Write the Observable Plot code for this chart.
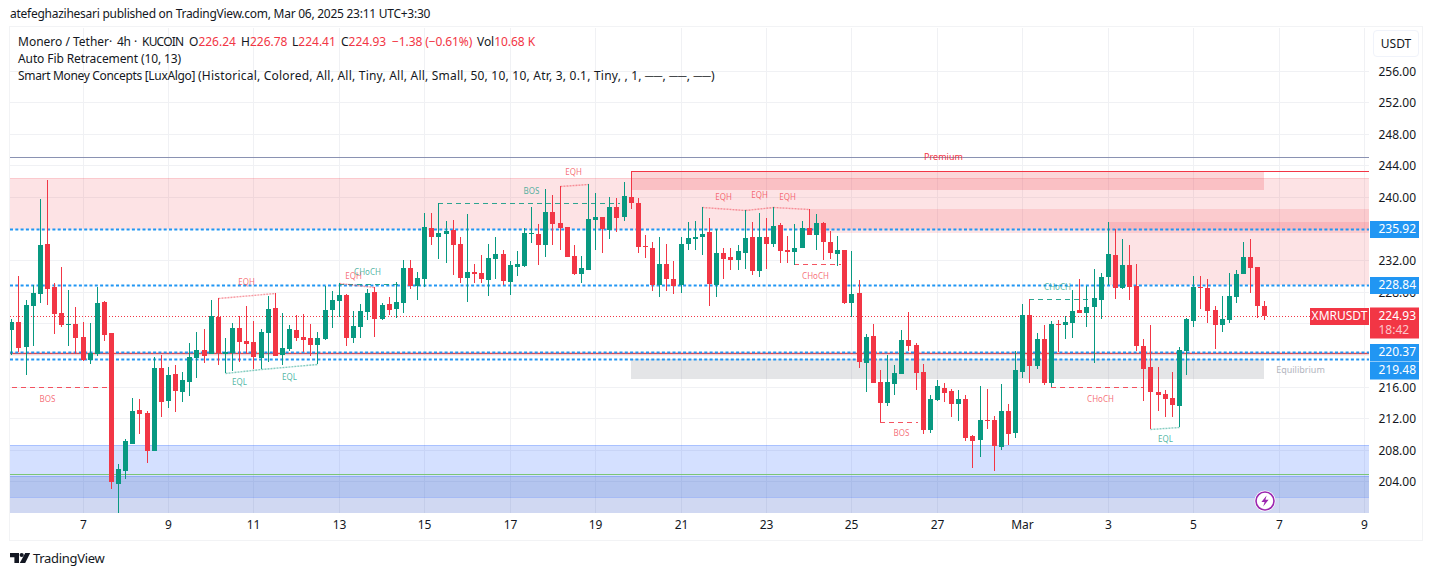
<!DOCTYPE html>
<html>
<head>
<meta charset="utf-8">
<script src="https://cdn.jsdelivr.net/npm/d3@7"></script>
<script src="https://cdn.jsdelivr.net/npm/@observablehq/plot@0.6"></script>
<style>
html,body{margin:0;padding:0;background:#fff}
#page{position:relative;width:1433px;height:576px;overflow:hidden;font-family:"Noto Sans",sans-serif;color:#131722}
#page svg.plot{position:absolute;left:0;top:0;background:transparent}
.abs{position:absolute;white-space:nowrap;line-height:16px}
#border{position:absolute;left:9px;top:26px;width:1412px;height:513px;border:1.5px solid #f2f3f5;box-sizing:content-box}
.r{color:#f23645}
</style>
</head>
<body>
<div id="page">
  <div id="border"></div>
  <div id="chart"></div>
  <div class="abs" style="left:10px;top:6px;font-size:12px;letter-spacing:-.26px">atefeghazihesari published on TradingView.com, Mar 06, 2025 23:11 UTC+3:30</div>
  <div class="abs" style="left:18px;top:34px;font-size:12px">Monero / Tether</div>
  <div class="abs" style="left:109px;top:34px;font-size:12px">·</div>
  <div class="abs" style="left:117px;top:34px;font-size:12px;letter-spacing:-.3px">4h</div>
  <div class="abs" style="left:134px;top:34px;font-size:12px">·</div>
  <div class="abs" style="left:142px;top:34px;font-size:12px;letter-spacing:-.8px">KUCOIN</div>
  <div class="abs" style="left:189px;top:34px;font-size:12px">O<span class="r">226.24</span></div>
  <div class="abs" style="left:241px;top:34px;font-size:12px">H<span class="r">226.78</span></div>
  <div class="abs" style="left:292px;top:34px;font-size:12px">L<span class="r">224.41</span></div>
  <div class="abs" style="left:341px;top:34px;font-size:12px">C<span class="r">224.93</span></div>
  <div class="abs r" style="left:392px;top:34px;font-size:12px;letter-spacing:-.1px">−1.38 (−0.61%)</div>
  <div class="abs" style="left:477px;top:34px;font-size:12px;letter-spacing:-.05px">Vol<span class="r">10.68 K</span></div>
  <div class="abs" style="left:18px;top:51px;font-size:12px;letter-spacing:-.1px">Auto Fib Retracement (10, 13)</div>
  <div class="abs" style="left:18px;top:68px;font-size:12px;letter-spacing:-.33px">Smart Money Concepts [LuxAlgo]</div>
  <div class="abs" style="left:198px;top:68px;font-size:12px;letter-spacing:.22px">(Historical, Colored, All, All, Tiny, All, All, Small, 50, 10, 10, Atr, 3, 0.1, Tiny, , 1, ──, ──, ──)</div>
  <div class="abs" style="left:1373px;top:30px;width:44px;height:25px;line-height:25px;border:1px solid #f0f3fa;border-radius:4px;text-align:center;font-size:12px">USDT</div>
  <svg class="abs" style="left:1254px;top:490px" width="22" height="22" viewBox="0 0 22 22">
    <circle cx="11" cy="11" r="10.5" fill="#fff"/>
    <circle cx="11" cy="11" r="9" fill="#fff" stroke="#9c27b0" stroke-width="1.6"/>
    <path d="M12.6 5.5 L7.4 12 H10.6 L9.2 16.5 L14.6 9.8 H11.4 Z" fill="#9c27b0"/>
  </svg>
  <svg class="abs" style="left:10px;top:552px" width="21" height="12" viewBox="0 0 21 12">
    <path d="M0 1H9V11H4.4V5.2H0Z" fill="#131722"/>
    <circle cx="11.7" cy="3" r="2.1" fill="#131722"/>
    <path d="M15.2 1H20.2L15.2 11H9.8Z" fill="#131722"/>
  </svg>
  <div class="abs" style="left:33px;top:550px;font-size:13px;letter-spacing:-.3px">TradingView</div>
</div>
<script>
const opens = [223.17,224.18,221.02,226.20,227.72,234.05,228.61,225.32,223.80,223.93,222.28,219.37,220.13,226.71,222.79,203.69,205.33,208.75,213.05,212.67,207.86,218.36,214.19,217.60,215.33,216.59,219.63,220.64,220.13,224.81,220.13,220.26,223.42,221.78,221.65,219.63,222.79,225.95,220.01,220.76,223.17,222.28,222.16,221.27,222.03,225.70,226.84,227.60,222.16,223.55,225.45,227.98,224.56,226.46,225.82,226.58,231.01,228.73,229.62,236.07,234.93,235.31,
235.82,234.05,229.75,230.51,230.38,229.49,232.15,232.78,229.24,231.14,231.26,235.31,235.31,233.92,238.10,236.70,236.20,232.53,230.25,230.76,237.08,237.46,235.82,238.73,237.46,240.00,239.23,233.80,233.54,228.86,
231.52,229.62,228.86,234.05,234.68,234.93,235.57,228.86,232.91,232.40,232.02,232.91,234.93,230.63,234.93,234.05,236.45,233.29,233.04,233.54,236.07,235.19,236.70,234.30,232.78,233.29,226.58,227.85,
219.00,222.41,216.59,213.93,216.34,217.60,221.90,221.27,217.86,210.52,214.31,215.83,215.45,213.81,214.44,209.76,209.25,211.78,211.78,208.37,212.92,210.14,217.86,225.07,218.62,222.03,
216.46,223.93,223.80,224.05,225.70,225.32,226.08,226.96,229.87,232.66,228.48,231.39,228.73,221.14,218.49,215.33,215.07,214.57,213.55,220.51,224.31,228.61,228.48,225.70,223.80,224.43,227.34,230.25,232.40,231.14,226.24];
const highs = [224.52,230.00,226.96,228.86,239.74,242.14,229.07,231.14,228.23,226.08,224.18,224.05,228.61,226.84,222.79,206.22,209.38,214.57,214.44,212.92,219.75,220.01,218.49,218.74,217.85,221.52,222.92,223.30,226.96,227.22,222.16,224.05,224.94,226.20,224.31,223.30,227.47,227.85,225.32,223.80,225.07,225.19,223.93,222.92,228.73,228.10,229.11,227.72,225.57,226.46,228.36,228.61,226.58,227.34,229.20,232.02,232.02,230.51,237.97,237.97,239.19,236.96,
237.08,234.93,237.84,231.52,232.66,234.05,234.93,233.29,231.90,233.16,236.07,238.73,236.58,241.01,240.25,241.39,236.20,233.92,232.53,241.64,240.50,237.46,240.00,239.87,241.89,240.00,239.87,235.19,234.30,234.93,
234.05,231.90,234.93,236.83,236.96,238.73,237.34,235.95,233.54,233.54,233.92,238.35,236.83,237.97,237.34,238.73,236.70,235.06,236.58,236.96,238.48,237.84,236.83,235.69,235.06,233.29,233.16,229.49,
222.66,223.93,218.11,220.01,218.74,223.17,225.45,221.53,218.87,214.95,216.84,216.46,215.70,215.58,214.95,209.89,216.09,215.70,212.29,216.34,213.81,220.51,226.46,227.09,222.79,223.80,
224.31,224.43,224.94,228.23,229.62,228.73,230.89,230.38,236.83,235.95,234.68,233.92,231.52,222.03,223.80,218.49,215.58,217.85,221.02,224.69,230.00,230.00,229.62,226.20,227.47,230.38,230.76,234.30,234.68,231.14,226.78];
const lows = [220.01,220.43,217.48,221.14,226.58,226.33,222.66,223.55,221.14,220.13,219.25,218.87,219.88,221.78,203.05,200.00,204.32,208.75,210.01,206.34,207.86,212.16,213.30,212.79,214.06,214.82,217.10,219.00,220.13,218.74,217.73,217.98,219.12,220.13,218.23,218.23,219.12,219.88,218.74,220.51,221.78,220.38,219.88,218.87,221.90,223.42,224.81,221.14,221.52,222.16,224.43,222.28,224.43,225.07,224.69,225.32,228.36,226.96,228.61,233.92,232.15,231.65,
230.13,229.11,226.71,229.11,229.11,227.47,229.62,228.86,227.60,230.00,231.14,234.18,231.39,232.40,233.92,233.29,232.40,230.13,229.11,230.76,233.29,232.91,234.68,235.57,236.96,238.48,232.91,232.28,228.10,227.34,
228.10,227.72,227.85,233.29,233.29,232.66,226.20,227.34,229.62,230.76,230.76,230.89,230.13,229.87,230.89,233.67,231.65,231.65,231.39,233.54,235.19,233.29,232.02,232.15,231.26,226.46,224.81,218.36,
215.33,216.46,213.93,213.55,214.95,217.60,220.51,215.58,210.01,210.14,214.19,214.06,212.16,211.66,209.13,205.71,207.10,210.64,205.33,207.99,208.62,209.51,217.10,216.46,218.24,216.21,
215.96,220.39,222.03,222.16,225.32,223.55,218.99,224.56,228.86,227.09,228.36,226.96,220.51,214.19,210.64,212.92,212.16,212.16,210.90,217.47,223.55,225.83,224.05,220.76,222.92,224.05,226.58,230.25,227.85,224.69,224.41];
const closes = [224.18,220.89,226.33,227.85,233.92,228.36,225.19,223.80,223.93,222.16,219.37,220.26,226.58,222.54,203.94,205.58,209.13,212.92,212.54,207.86,218.36,214.06,217.48,215.45,216.84,219.75,220.64,219.88,224.94,220.26,220.38,223.42,221.65,221.40,219.75,222.92,225.82,219.88,220.89,223.30,222.16,221.90,221.27,222.16,225.70,226.96,227.60,222.16,223.67,225.57,227.85,224.56,226.33,225.70,226.71,231.01,228.73,229.75,236.20,234.93,235.44,235.69,
233.92,229.75,230.51,230.25,229.62,232.28,232.78,229.37,231.39,231.52,235.44,235.44,233.92,238.10,236.58,236.07,232.40,230.25,231.01,237.21,237.46,235.95,238.73,237.34,240.12,239.23,233.67,233.67,228.86,231.52,
229.62,228.74,234.05,234.81,234.93,235.31,228.99,232.91,232.15,232.02,233.16,234.81,230.63,234.93,234.05,236.33,233.16,233.04,233.54,236.07,235.19,236.70,234.30,232.91,233.29,226.58,227.72,219.12,
222.28,216.46,213.93,216.59,217.73,221.90,221.15,217.73,210.52,214.44,216.09,215.20,213.81,214.44,209.51,209.13,211.78,211.66,208.50,212.92,210.01,218.11,225.07,218.62,222.03,216.46,
223.93,223.80,224.18,225.57,225.32,226.08,227.22,229.87,232.78,228.48,231.39,228.61,221.14,218.23,215.33,214.95,214.44,213.68,220.64,224.56,228.61,228.48,225.57,223.80,224.56,227.47,230.25,232.40,231.00,226.20,224.93];

// Axis values
const gridPrices = [204,208,212,216,220,224,228,232,236,240,244,248,252,256];
const priceTicks = [204,208,212,216,228,232,240,244,248,252,256];
const dayTicks = ["2025-02-07","2025-02-09","2025-02-11","2025-02-13","2025-02-15","2025-02-17","2025-02-19","2025-02-21","2025-02-23","2025-02-25","2025-02-27","2025-03-01","2025-03-03","2025-03-05","2025-03-07","2025-03-09"];
const dayLabels = ["7","9","11","13","15","17","19","21","23","25","27","Mar","3","5","7","9"];

// Levels and zones: [first candle, last candle, top price, bottom price]
const redZones = [[0.8,191.7,242.40,235.92],[88,177,243.32,240.88],[113.2,191.7,238.44,235.40],[155,191.7,236.83,228.88]];
const greyZones = [[88,177,219.50,216.97]];
const blueLevels = [235.92,228.84,220.37,219.48];
const redLevel = [220.22];
const lastPrice = [224.93];
const topLine = [245.03];
const premiumLine = [243.32];
const greenLine = [204.90];

const blueBands = [[208.58,204.70,"rgba(41,98,255,.2)"],[204.70,202.04,"rgba(41,90,210,.35)"],[202.04,200.01,"rgba(50,85,200,.23)"]];
const blueEdges = [208.58,204.70,202.04];

// Structure annotations
const dashes = [[1.1,14.4,215.92,"r"],[47,55.6,229.03,"g"],[61,86.5,239.20,"g"],[111,117.6,231.48,"r"],[123,128.4,211.49,"r"],[144,152.5,227.05,"g"],[147,160,215.92,"r"]];
const brackets = [[88,243.32,240.00,"r"],[123,213.93,211.49,"r"]];
const dotted = [[30,227.22,38,227.85,"r"],[31,217.73,36,218.23,"g"],[36,218.23,44,218.87,"g"],[47,229.11,52,228.61,"r"],[78,241.39,82,241.64,"r"],[98,238.73,104,238.35,"r"],[104,238.35,108,238.73,"r"],[108,238.73,113,238.48,"r"],[161,210.64,165,210.90,"g"]];
const labels = [["BOS",5.97,214.48,"r"],["EQH",33.96,229.28,"r"],["EQL",32.94,216.63,"g"],["EQL",39.96,217.26,"g"],["EQH",49.03,230.04,"r"],["CHoCH",51,230.54,"g"],["BOS",73.95,240.79,"g"],["EQH",79.93,243.2,"r"],["EQH",101,239.96,"r"],["EQH",106.05,240.29,"r"],["EQH",110,240.03,"r"],["CHoCH",113.9,230.04,"r"],["BOS",125.9,210.1,"r"],["CHoCH",147.9,228.65,"g"],["CHoCH",153.95,214.4,"r"],["EQL",163,209.42,"g"]];
const zoneTexts = [["Premium",131.9,245.1,"#f23645"],["Equilibrium",182.05,218.12,"#b2b5be"]];

const GREEN = "#089981", RED = "#f23645", BLUE = "#2196f3";
const t0 = Date.UTC(2025,1,7);
const when = k => new Date(t0 + (k-11)*4*3600*1000);
const kind = c => c === "r" ? RED : GREEN;
const candles = opens.map((o,i)=>({t:when(i+1),o,h:highs[i],l:lows[i],c:closes[i],col:closes[i]>=o?GREEN:RED}));
const kL = 0.817, kR = 191.69;
const font = '"Noto Sans",sans-serif';

const plot = Plot.plot({
  width:1433, height:576,
  marginLeft:10, marginRight:64, marginTop:28, marginBottom:63,
  style:{background:"transparent",fontFamily:font,fontSize:"12px",color:"#131722"},
  x:{type:"utc",domain:[when(kL),when(kR)],round:true,label:null},
  y:{domain:[200.01,261.38],round:true,label:null},
  marks:[
    Plot.gridY(gridPrices,{stroke:"#f0f1f4",strokeOpacity:1}),
    Plot.gridX(dayTicks.map(d=>new Date(d)),{stroke:"#f0f1f4",strokeOpacity:1}),
    // zones
    Plot.rect(redZones,{x1:d=>when(d[0]),x2:d=>when(d[1]),y1:d=>d[2],y2:d=>d[3],fill:"rgba(242,54,69,.14)"}),
    Plot.rect([redZones[1]],{x1:d=>when(d[0]),x2:d=>when(d[1]),y1:d=>d[2],y2:d=>d[3],fill:"rgba(242,54,69,.07)"}),
    Plot.ruleY([redZones[0][2]],{stroke:"rgba(242,54,69,.15)"}),
    Plot.rect(greyZones,{x1:d=>when(d[0]),x2:d=>when(d[1]),y1:d=>d[2],y2:d=>d[3],fill:"rgba(120,123,134,.2)"}),
    Plot.rect(blueBands,{x1:()=>when(kL),x2:()=>when(kR),y1:d=>d[0],y2:d=>d[1],fill:d=>d[2]}),
    Plot.ruleY(blueEdges,{stroke:"rgba(41,98,255,.25)"}),
    // levels
    Plot.ruleY(topLine,{stroke:"#8a92b2",strokeWidth:1}),
    Plot.ruleY(greenLine,{stroke:"#7cc576",strokeWidth:1.2}),
    Plot.ruleY(redLevel,{stroke:"#ef4444",strokeWidth:1.5}),
    Plot.ruleY(premiumLine,{x1:when(88),x2:when(kR),stroke:RED,strokeWidth:1.2}),
    Plot.ruleY(blueLevels,{stroke:BLUE,strokeWidth:2,strokeDasharray:"3,2.3"}),
    Plot.ruleY(lastPrice,{x1:when(kL),x2:when(kR),stroke:RED,strokeWidth:1,strokeDasharray:"1,2"}),
    // structure
    Plot.ruleY(dashes,{x1:d=>when(d[0]),x2:d=>when(d[1]),y:d=>d[2],stroke:d=>kind(d[3]),strokeWidth:1,strokeOpacity:.85,strokeDasharray:"5,4"}),
    Plot.ruleX(brackets,{x:d=>when(d[0]),y1:d=>d[1],y2:d=>d[2],stroke:d=>kind(d[3]),strokeWidth:1}),
    Plot.link(dotted,{x1:d=>when(d[0]),y1:d=>d[1],x2:d=>when(d[2]),y2:d=>d[3],stroke:d=>kind(d[4]),strokeWidth:1.4,strokeOpacity:.5,strokeDasharray:"2,1"}),
    // candles
    Plot.ruleX(candles,{x:"t",y1:"l",y2:"h",stroke:"col",strokeWidth:1}),
    Plot.ruleX(candles,{x:"t",y1:"o",y2:"c",stroke:"col",strokeWidth:5}),
    // annotations
    Plot.text(labels,{x:d=>when(d[1]),y:d=>d[2],text:d=>d[0],fill:d=>kind(d[3]),fillOpacity:.72,fontSize:8}),
    Plot.text(zoneTexts,{x:d=>when(d[1]),y:d=>d[2],text:d=>d[0],fill:d=>d[3],fontSize:9}),
    // axes
    Plot.axisX(dayTicks.map(d=>new Date(d)),{anchor:"bottom",tickSize:0,tickPadding:7,tickFormat:(d,i)=>dayLabels[i],fontSize:12,label:null,fill:"#131722"}),
    Plot.axisY(priceTicks,{anchor:"right",tickSize:0,tickPadding:9,tickFormat:d3.format(".2f"),fontSize:12,label:null,textAnchor:"start",fill:"#131722",dy:0.6}),
    // price tags
    Plot.ruleY(blueLevels,{stroke:BLUE,strokeWidth:17,insetLeft:1360,insetRight:-50,filter:d=>d!==219.48}),
    Plot.ruleY([219.48],{stroke:BLUE,strokeWidth:18,insetLeft:1360,insetRight:-50,dy:11}),
    Plot.ruleY(lastPrice,{stroke:RED,strokeWidth:31,insetLeft:1360,insetRight:-50,dy:6.5}),
    Plot.ruleY(lastPrice,{stroke:RED,strokeWidth:17,insetLeft:1300,insetRight:0}),
    Plot.text(blueLevels,{filter:d=>d!==219.48,y:d=>d,text:d=>d.toFixed(2),frameAnchor:"right",textAnchor:"start",dx:9,fill:"#fff",fontSize:12}),
    Plot.text([219.48],{y:d=>d,text:d=>d.toFixed(2),frameAnchor:"right",textAnchor:"start",dx:9,dy:11,fill:"#fff",fontSize:12}),
    Plot.text(lastPrice,{y:d=>d,text:d=>d.toFixed(2),frameAnchor:"right",textAnchor:"start",dx:9,fill:"#fff",fontSize:12}),
    Plot.text(lastPrice,{y:d=>d,text:()=>"18:42",frameAnchor:"right",textAnchor:"start",dx:9,dy:14,fill:"#fcc6ca",fontSize:12}),
    Plot.text(lastPrice,{y:d=>d,text:()=>"XMRUSDT",frameAnchor:"right",textAnchor:"middle",dx:-30,fill:"#fff",fontSize:12})
  ]
});
document.getElementById("chart").appendChild(plot);
</script>
</body>
</html>
